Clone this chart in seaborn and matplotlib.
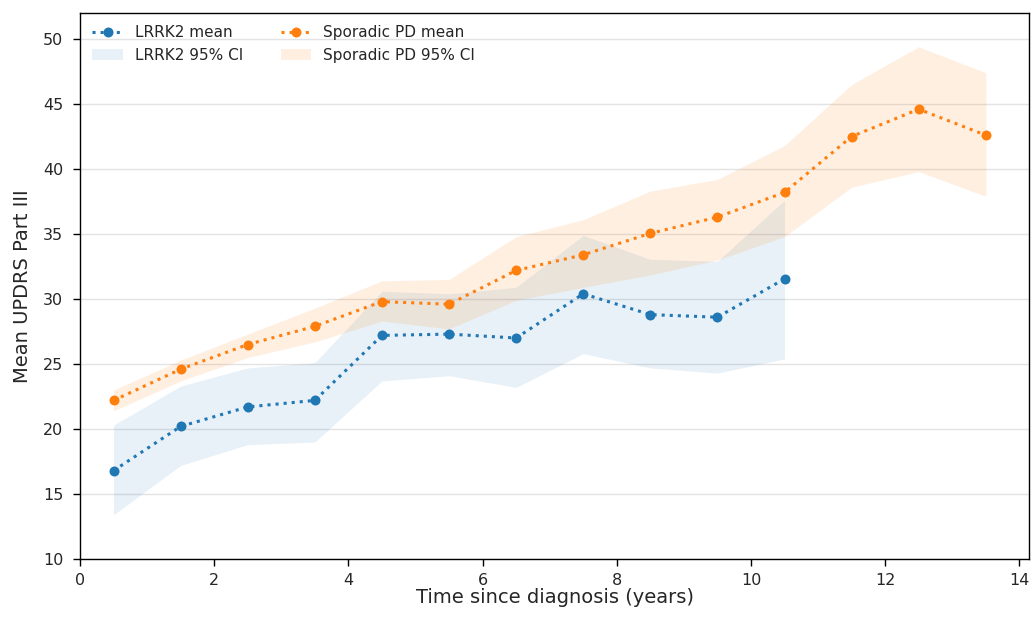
import numpy as np
import pandas as pd
import matplotlib
matplotlib.use("Agg")
import matplotlib.pyplot as plt
import seaborn as sns

# values
lrrk2_years = [0.5, 1.5, 2.5, 3.5, 4.5, 5.5, 6.5, 7.5, 8.5, 9.5, 10.5]
lrrk2_mean = [16.8, 20.2, 21.7, 22.2, 27.2, 27.3, 27.0, 30.4, 28.8, 28.6, 31.55]
lrrk2_lower = [13.4, 17.2, 18.8, 19.0, 23.7, 24.1, 23.2, 25.8, 24.7, 24.3, 25.4]
lrrk2_upper = [20.3, 23.3, 24.7, 25.1, 30.6, 30.4, 30.9, 34.9, 33.05, 32.9, 37.6]

spor_years = [0.5, 1.5, 2.5, 3.5, 4.5, 5.5, 6.5, 7.5, 8.5, 9.5, 10.5, 11.5, 12.5, 13.5]
spor_mean = [22.2, 24.6, 26.5, 27.9, 29.8, 29.6, 32.2, 33.4, 35.05, 36.3, 38.2, 42.5, 44.6, 42.6]
spor_lower = [21.4, 23.7, 25.5, 26.7, 28.3, 27.7, 29.9, 30.9, 31.85, 33.0, 34.8, 38.6, 39.8, 37.9]
spor_upper = [23.0, 25.3, 27.3, 29.3, 31.4, 31.5, 34.8, 36.1, 38.3, 39.2, 41.8, 46.5, 49.4, 47.4]

blue = "#1f77b4"
orange = "#ff7f0e"

lrrk2 = pd.DataFrame({"years": lrrk2_years, "mean": lrrk2_mean,
                      "lo": lrrk2_lower, "hi": lrrk2_upper})
spor = pd.DataFrame({"years": spor_years, "mean": spor_mean,
                     "lo": spor_lower, "hi": spor_upper})

sns.set_style("white")
fig, ax = plt.subplots(figsize=(10.31, 6.19), dpi=100)
fig.subplots_adjust(left=0.0776, right=0.9985, top=0.979, bottom=0.0969)

l1 = sns.lineplot(data=lrrk2, x="years", y="mean", ax=ax, color=blue,
                  linestyle=":", linewidth=2.2, marker="o", markersize=7.2,
                  markeredgewidth=0, label="LRRK2 mean").lines[-1]
f1 = ax.fill_between(lrrk2["years"], lrrk2["lo"], lrrk2["hi"], color=blue,
                     alpha=0.1, linewidth=0, label="LRRK2 95% CI")
l2 = sns.lineplot(data=spor, x="years", y="mean", ax=ax, color=orange,
                  linestyle=":", linewidth=2.2, marker="o", markersize=7.2,
                  markeredgewidth=0, label="Sporadic PD mean").lines[-1]
f2 = ax.fill_between(spor["years"], spor["lo"], spor["hi"], color=orange,
                     alpha=0.12, linewidth=0, label="Sporadic PD 95% CI")

ax.set_xlim(0, 14.15)
ax.set_ylim(10, 52)
ax.set_xticks(np.arange(0, 15, 2))
ax.set_yticks(np.arange(10, 51, 5))
ax.tick_params(axis="both", labelsize=11.5, length=5, width=1, direction="out",
               bottom=True, left=True, color="black")
ax.tick_params(axis="x", pad=5)
ax.tick_params(axis="y", pad=7)
ax.yaxis.grid(True, color="#e3e3e3", linewidth=1)
ax.xaxis.grid(False)
for s in ax.spines.values():
    s.set_color("black")
    s.set_linewidth(1)

ax.set_xlabel("Time since diagnosis (years)", fontsize=14, labelpad=0)
ax.set_ylabel("Mean UPDRS Part III", fontsize=14, labelpad=8)

ax.legend(handles=[l1, f1, l2, f2], loc="upper left", ncol=2, frameon=False,
          fontsize=11, numpoints=1, columnspacing=2.45, borderaxespad=0.4)

plt.savefig("out.png", dpi=100)
